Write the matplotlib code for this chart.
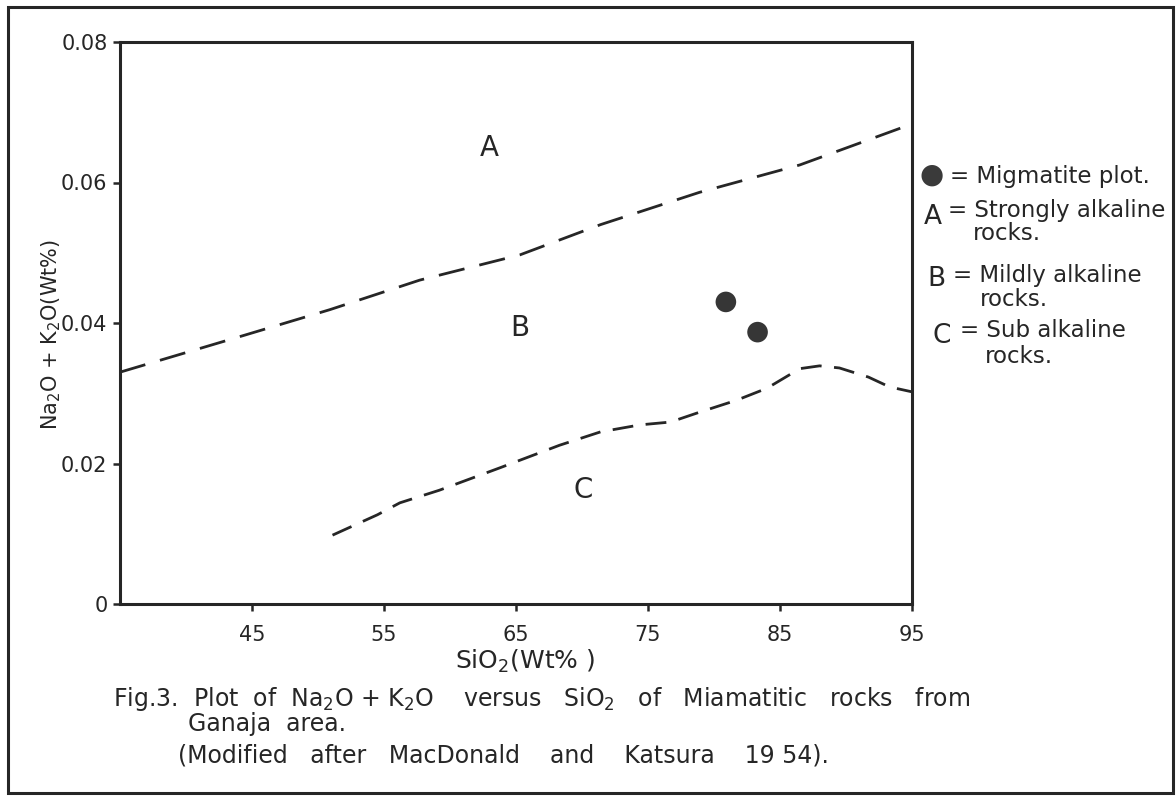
import matplotlib
matplotlib.use("Agg")
import matplotlib.pyplot as plt
from matplotlib.patches import Rectangle

plt.rcParams['font.family'] = ['DejaVu Sans']
plt.rcParams['lines.scale_dashes'] = False

# ---- data ----
x_ticks = [45, 55, 65, 75, 85, 95]
x_tick_labels = ["45", "55", "65", "75", "85", "95"]
y_ticks = [0, 0.02, 0.04, 0.06, 0.08]
y_tick_labels = ["0", "0.02", "0.04", "0.06", "0.08"]

# upper dashed boundary (A / B)
upper_x = [35.0, 44.5, 50.9, 57.7, 65.3, 71.4, 78.9, 86.5, 94.8]
upper_y = [0.0330, 0.0383, 0.0419, 0.0461, 0.0497, 0.0540, 0.0586, 0.0625, 0.0682]

# lower dashed boundary (B / C)
lower_x = [51.1, 54.5, 56.2, 59.2, 63.8, 68.3, 71.4, 74.4, 76.7, 78.9, 81.7, 84.0,
           86.5, 88.0, 89.5, 91.7, 93.3, 95.0]
lower_y = [0.0098, 0.0127, 0.0144, 0.0162, 0.0194, 0.0226, 0.0245, 0.0255, 0.0259,
           0.0273, 0.0290, 0.0307, 0.0335, 0.0339, 0.0336, 0.0323, 0.0309, 0.0302]

# migmatite samples
sample_x = [80.9, 83.3]
sample_y = [0.0430, 0.0387]

# field letters
field_labels = ["A", "B", "C"]
field_x = [63.0, 65.3, 70.1]
field_y = [0.0649, 0.0393, 0.0162]

ink = "#262626"
W, H = 1176, 796


def fx(px):
    return px / W


def fy(py):
    return 1 - py / H


fig = plt.figure(figsize=(11.76, 7.96), dpi=100)
ax = fig.add_axes([fx(120), fy(604), fx(912) - fx(120), fy(42) - fy(604)])

ax.plot(upper_x, upper_y, color=ink, lw=2.0, dashes=(19, 11), clip_on=True)
ax.plot(lower_x, lower_y, color=ink, lw=2.0, dashes=(15, 9), clip_on=True)
ax.scatter(sample_x, sample_y, s=220, color="#363636", edgecolors="none", zorder=3)

for lab, x, y in zip(field_labels, field_x, field_y):
    ax.text(x, y, lab, fontsize=20, color=ink, ha="center", va="center")

ax.set_xlim(35, 95)
ax.set_ylim(0, 0.08)
ax.set_xticks(x_ticks)
ax.set_xticklabels(x_tick_labels)
ax.set_yticks(y_ticks)
ax.set_yticklabels(y_tick_labels)
ax.tick_params(axis="both", direction="out", length=5, width=1.8, color=ink,
               labelsize=15, labelcolor=ink)
ax.tick_params(axis="x", pad=10)
ax.tick_params(axis="y", pad=4)
for sp in ax.spines.values():
    sp.set_linewidth(2.2)
    sp.set_color(ink)

ax.set_ylabel(r"Na$_2$O + K$_2$O(Wt%)", fontsize=15, color=ink)
ax.yaxis.set_label_coords(-0.072, 0.48)

# x-axis title
fig.text(fx(455), fy(661), r"SiO$_2$(Wt% )", fontsize=18, color=ink,
         ha="left", va="center")

# key on the right
fs_key = 16.5
fig.text(fx(932), fy(175), "\u25CF", fontsize=20, color="#3a3a3a", ha="center", va="center")
fig.text(fx(950), fy(176), "= Migmatite plot.", fontsize=fs_key, color=ink, ha="left", va="center")
fig.text(fx(924), fy(217), "A", fontsize=19, color=ink, ha="left", va="center")
fig.text(fx(948), fy(210), "= Strongly alkaline", fontsize=fs_key, color=ink, ha="left", va="center")
fig.text(fx(973), fy(234), "rocks.", fontsize=fs_key, color=ink, ha="left", va="center")
fig.text(fx(927), fy(279), "B", fontsize=19, color=ink, ha="left", va="center")
fig.text(fx(953), fy(275), "= Mildly alkaline", fontsize=fs_key, color=ink, ha="left", va="center")
fig.text(fx(980), fy(299), "rocks.", fontsize=fs_key, color=ink, ha="left", va="center")
fig.text(fx(932), fy(336), "C", fontsize=19, color=ink, ha="left", va="center")
fig.text(fx(960), fy(331), "= Sub alkaline", fontsize=fs_key, color=ink, ha="left", va="center")
fig.text(fx(985), fy(356), "rocks.", fontsize=fs_key, color=ink, ha="left", va="center")

# caption
fs_cap = 17
fig.text(fx(113), fy(699),
         r"Fig.3.  Plot  of  Na$_2$O + K$_2$O    versus   SiO$_2$   of   Miamatitic   rocks   from",
         fontsize=fs_cap, color=ink, ha="left", va="center")
fig.text(fx(188), fy(724), "Ganaja  area.", fontsize=fs_cap, color=ink, ha="left", va="center")
fig.text(fx(178), fy(756), "(Modified   after   MacDonald    and    Katsura    19 54).",
         fontsize=fs_cap, color=ink, ha="left", va="center")

# page border
fig.patches.append(Rectangle((fx(8), fy(793)), fx(1173) - fx(8), fy(7) - fy(793),
                             transform=fig.transFigure, fill=False, lw=2.2, edgecolor=ink))

fig.savefig("out.png", dpi=100)
